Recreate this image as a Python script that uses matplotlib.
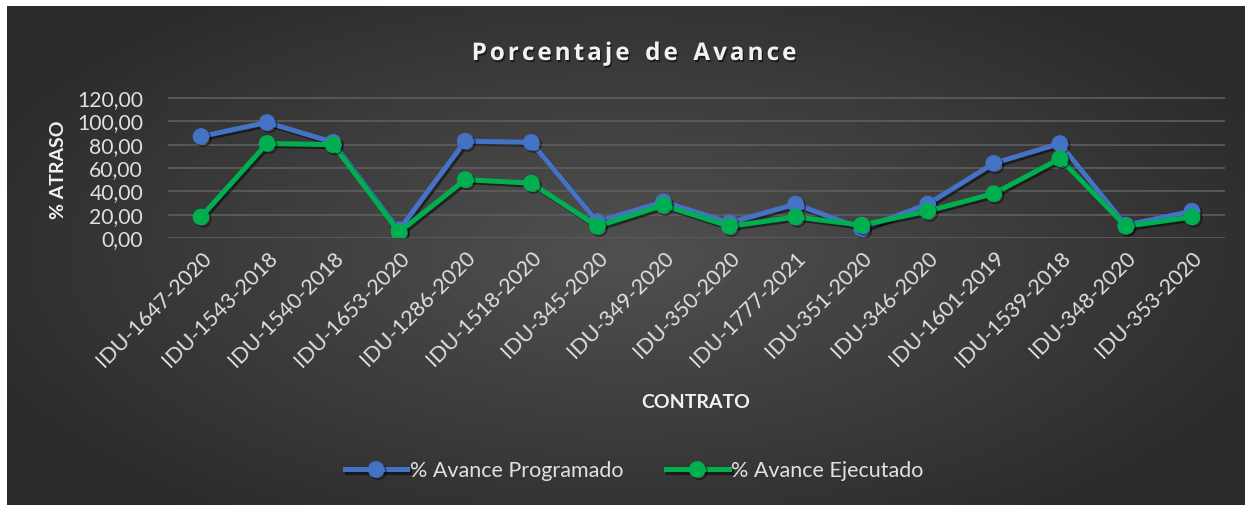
import numpy as np
import matplotlib
matplotlib.use("Agg")
import matplotlib.pyplot as plt
import matplotlib.patheffects as pe

plt.rcParams["font.family"] = ["Lato", "DejaVu Sans"]

contratos = [
    "IDU-1647-2020", "IDU-1543-2018", "IDU-1540-2018", "IDU-1653-2020",
    "IDU-1286-2020", "IDU-1518-2020", "IDU-345-2020", "IDU-349-2020",
    "IDU-350-2020", "IDU-1777-2021", "IDU-351-2020", "IDU-346-2020",
    "IDU-1601-2019", "IDU-1539-2018", "IDU-348-2020", "IDU-353-2020",
]
programado = [87, 99, 82, 7, 83, 82, 14, 31, 13, 29, 8, 29, 64, 81, 11, 23]
ejecutado = [18, 81, 80, 5, 50, 47, 10, 28, 10, 18, 11, 23, 38, 68, 10, 18]
y_ticks = [0, 20, 40, 60, 80, 100, 120]

W, H = 1253, 508
fig = plt.figure(figsize=(W / 100, H / 100), dpi=100)
fig.patch.set_facecolor("white")

# dark radial gradient background of the chart area
bg = fig.add_axes([7 / W, 3 / H, 1238 / W, 499 / H])
yy, xx = np.mgrid[-1:1:300j, -1:1:600j]
r = np.sqrt((xx * 0.85) ** 2 + (yy * 0.75) ** 2)
shade = 0.315 - 0.15 * np.clip(r, 0, 1.0)
bg.imshow(np.dstack([shade] * 3), aspect="auto", extent=[0, 1, 0, 1])
bg.set_axis_off()

ax = fig.add_axes([168 / W, (H - 238) / H, (1225 - 168) / W, 147 / H])
ax.set_facecolor("none")
x = np.arange(len(contratos))

shadow = [pe.SimpleLineShadow(offset=(1.5, -1.5), shadow_color="black", alpha=0.5), pe.Normal()]
ax.plot(x, programado, color="#4472C4", lw=3.6, marker="o", ms=11,
        label="% Avance Programado", path_effects=shadow, zorder=3)
ax.plot(x, ejecutado, color="#00B050", lw=3.6, marker="o", ms=11,
        label="% Avance Ejecutado", path_effects=shadow, zorder=4)

ax.set_xlim(-0.5, len(contratos) - 0.5)
ax.set_ylim(0, 126)
ax.set_yticks(y_ticks)
ax.set_yticklabels([f"{v:.2f}".replace(".", ",") for v in y_ticks],
                   fontsize=15.2, color="#e0e0e0")
ax.set_xticks(x)
ax.set_xticklabels(contratos, rotation=45, ha="right", rotation_mode="anchor",
                   fontsize=15.5, color="#e0e0e0")
ax.tick_params(axis="y", length=0, pad=18)
ax.tick_params(axis="x", length=0, pad=7)
ax.grid(axis="y", color="#5e5e5e", lw=1.2)
ax.set_axisbelow(True)
for s in ax.spines.values():
    s.set_visible(False)

# title with letter spacing: place each character separately
title = "Porcentaje de Avance"
title_kw = dict(fontsize=17.5, fontweight="bold", color="#f2f2f2",
                family=["Open Sans", "DejaVu Sans"], va="baseline", ha="left",
                path_effects=[pe.withSimplePatchShadow(offset=(1, -1.5),
                                                       shadow_rgbFace="black", alpha=0.5)])
spacing = 3.0
renderer = fig.canvas.get_renderer()
chars = [fig.text(0, 0, c, **title_kw) for c in title]
widths = []
for t in chars:
    if t.get_text() == " ":
        t.set_text("i")
        widths.append(t.get_window_extent(renderer).width * 1.3)
        t.set_text("")
    else:
        widths.append(t.get_window_extent(renderer).width)
total = sum(widths) + spacing * (len(chars) - 1)
xpos = 634 - total / 2
for t, w in zip(chars, widths):
    t.set_position((xpos / W, (H - 60) / H))
    xpos += w + spacing

fig.text(58 / W, (H - 170) / H, "% ATRASO", rotation=90, ha="center", va="center",
         fontsize=14, fontweight="bold", color="#f2f2f2")
fig.text(696 / W, (H - 403) / H, "CONTRATO", ha="center", va="center",
         fontsize=14, fontweight="bold", color="#f2f2f2")

leg = fig.legend(loc="center", bbox_to_anchor=(634 / W, (H - 471) / H), ncol=2,
                 frameon=False, fontsize=15.5, handlelength=2.9, columnspacing=2.0,
                 handletextpad=0.1)
for t in leg.get_texts():
    t.set_color("#e0e0e0")

fig.savefig("out.png", dpi=100)
